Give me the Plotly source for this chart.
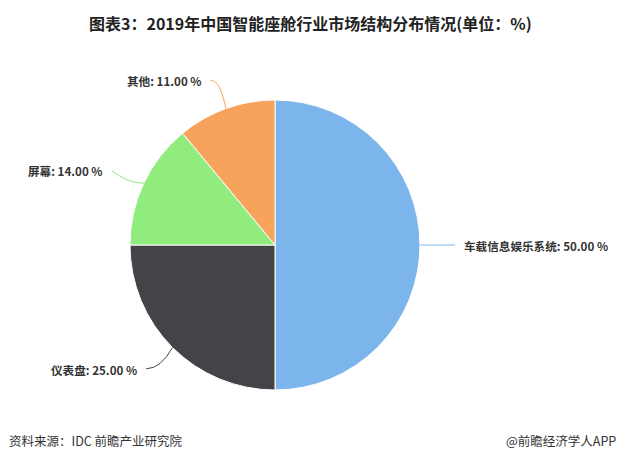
import math
import plotly.graph_objects as go

W, H = 620, 462
title = "图表3：2019年中国智能座舱行业市场结构分布情况(单位：%)"
categories = ["车载信息娱乐系统", "仪表盘", "屏幕", "其他"]
values = [50.0, 25.0, 14.0, 11.0]
colors = ["#7cb5ec", "#434348", "#90ed7d", "#f7a35c"]
source_text = "资料来源：IDC 前瞻产业研究院"
brand_text = "@前瞻经济学人APP"

# pie geometry (pixels)
cx, cy, r = 275, 245, 145
dist = 30

fig = go.Figure(go.Pie(
    labels=categories, values=values, sort=False, direction="clockwise",
    rotation=0, textinfo="none", hoverinfo="label+percent",
    marker=dict(colors=colors, line=dict(color="#ffffff", width=1)),
    domain=dict(x=[(cx - r) / W, (cx + r) / W], y=[1 - (cy + r) / H, 1 - (cy - r) / H]),
    showlegend=False,
))

def px(x):
    return x / W

def py(y):
    return 1 - y / H

total = sum(values)
cum = 0
annotations = []
shapes = []
for cat, v, col in zip(categories, values, colors):
    mid = (cum + v / 2) / total * 2 * math.pi
    cum += v
    s, c = math.sin(mid), math.cos(mid)
    ex, ey = cx + r * s, cy - r * c
    lx, ly = cx + (r + dist) * s, cy - (r + dist) * c
    right = s >= 0
    sign = 1 if right else -1
    endx = lx + 5 * sign
    tx = lx + 12 * sign
    if abs(s) > 0.9:
        qx, qy = (ex + endx) / 2, ey
    else:
        qx, qy = cx + (r + dist * 0.55) * s, ly
    path = f"M {px(ex)},{py(ey)} Q {px(qx)},{py(qy)} {px(endx)},{py(ly)}"
    shapes.append(dict(type="path", xref="paper", yref="paper", path=path,
                       line=dict(color=col, width=1)))
    annotations.append(dict(
        x=px(tx), y=py(ly + 1), xref="paper", yref="paper",
        xanchor="left" if right else "right", yanchor="middle",
        text=f"<b>{cat}: {v:.2f} %</b>", showarrow=False,
        font=dict(family="Noto Sans CJK SC", size=11.6, color="#333333")))

annotations.append(dict(x=0.5, y=py(23), xref="paper", yref="paper", xanchor="center",
                        yanchor="middle", showarrow=False,
                        text=f"<b>{title}</b>",
                        font=dict(family="Noto Sans CJK SC", size=16, color="#222222")))
annotations.append(dict(x=px(7), y=py(440), xref="paper", yref="paper", xanchor="left",
                        yanchor="middle", showarrow=False, text=source_text,
                        font=dict(family="Noto Sans CJK SC", size=12.5, color="#333333")))
annotations.append(dict(x=px(618), y=py(440), xref="paper", yref="paper", xanchor="right",
                        yanchor="middle", showarrow=False, text=brand_text,
                        font=dict(family="Noto Sans CJK SC", size=12.5, color="#333333")))

fig.update_layout(
    width=W, height=H, margin=dict(l=0, r=0, t=0, b=0),
    paper_bgcolor="#ffffff", plot_bgcolor="#ffffff",
    annotations=annotations, shapes=shapes,
)
fig.write_html("out.html", config={"displayModeBar": False},
               post_script="document.body.style.margin='0';")
